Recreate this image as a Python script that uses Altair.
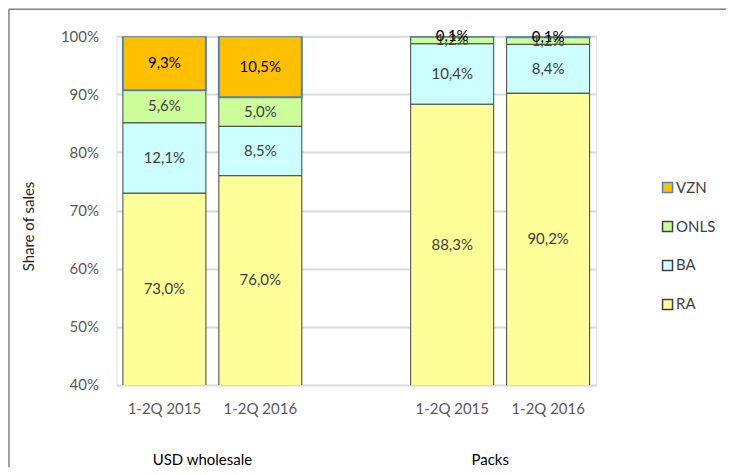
import altair as alt
import pandas as pd

series = ["RA", "BA", "ONLS", "VZN"]
groups = ["USD wholesale", "USD wholesale", "Packs", "Packs"]
periods = ["1-2Q 2015", "1-2Q 2016", "1-2Q 2015", "1-2Q 2016"]
usd_2015 = [73.0, 12.1, 5.6, 9.3]
usd_2016 = [76.0, 8.5, 5.0, 10.5]
packs_2015 = [88.3, 10.4, 1.2, 0.1]
packs_2016 = [90.2, 8.4, 1.2, 0.1]
values = [usd_2015, usd_2016, packs_2015, packs_2016]

legend_order = ["VZN", "ONLS", "BA", "RA"]
fills = ["#FFC000", "#CCFF99", "#CCFFFF", "#FFFF99"]
strokes = ["#4F81BD", "#404040", "#404040", "#404040"]

rows = []
for g, p, vals in zip(groups, periods, values):
    for rank, (s, v) in enumerate(zip(series, vals)):
        rows.append({"cat": g + "|" + p, "series": s, "share": v, "rank": rank})
df = pd.DataFrame(rows)

cat_domain = ["USD wholesale|1-2Q 2015", "USD wholesale|1-2Q 2016", "gap",
              "Packs|1-2Q 2015", "Packs|1-2Q 2016"]

grp_df = pd.DataFrame({"cat": ["USD wholesale|1-2Q 2015", "Packs|1-2Q 2015"],
                       "label": ["USD wholesale", "Packs"]})

FONT = "Lato"
W, H = 480, 349
YMIN = 40

xscale = alt.Scale(domain=cat_domain, paddingInner=0.135, paddingOuter=0.0675)

x_enc = alt.X("cat:N", scale=xscale, sort=cat_domain,
              axis=alt.Axis(title=None, domain=False, ticks=False, labelPadding=17,
                            labelFontSize=15, labelColor="#595959", labelFont=FONT,
                            labelAngle=0,
                            labelExpr="datum.value == 'gap' ? '' : split(datum.value, '|')[1]"))

legend_cfg = dict(title=None, orient="none", legendX=544, legendY=144,
                  symbolType="square", symbolSize=100, symbolStrokeWidth=1.5,
                  labelFontSize=15, labelFont=FONT, labelColor="#404040",
                  rowPadding=22, labelOffset=1, padding=0)

bars = alt.Chart(df).mark_bar(clip=True, strokeWidth=1).encode(
    x=x_enc,
    y=alt.Y("share:Q", stack="zero",
            scale=alt.Scale(domain=[YMIN, 100], zero=False, nice=False),
            axis=alt.Axis(values=[40, 50, 60, 70, 80, 90, 100], labelExpr="datum.value + '%'",
                          domain=False, ticks=False, grid=True, gridColor="#d9d9d9",
                          gridWidth=2, labelPadding=18, labelFontSize=15,
                          labelColor="#595959", labelFont=FONT,
                          title="Share of sales", titleFontSize=15, titleFont=FONT,
                          titleFontWeight="normal", titleColor="#262626",
                          titleX=-88, titleY=190, titleAngle=-90, titleAlign="center",
                          titleBaseline="middle")),
    color=alt.Color("series:N", scale=alt.Scale(domain=legend_order, range=fills),
                    legend=alt.Legend(**legend_cfg)),
    stroke=alt.Stroke("series:N", scale=alt.Scale(domain=legend_order, range=strokes),
                      legend=alt.Legend(**legend_cfg)),
    strokeWidth=alt.condition(alt.datum.series == "VZN", alt.value(2), alt.value(1)),
    order=alt.Order("rank:Q"),
)

labels = alt.Chart(df).transform_stack(
    stack="share", groupby=["cat"], as_=["y0", "y1"], sort=[alt.SortField("rank")]
).transform_calculate(
    mid=f"(max(datum.y0, {YMIN}) + datum.y1) / 2",
    txt="replace(format(datum.share, '.1f'), '.', ',') + '%'"
).mark_text(fontSize=15, font=FONT, baseline="middle").encode(
    x=alt.X("cat:N", scale=xscale, sort=cat_domain),
    y=alt.Y("mid:Q"),
    text="txt:N",
    color=alt.condition(alt.datum.series == "VZN", alt.value("#000000"), alt.value("#404040")),
    order=alt.Order("rank:Q"),
)

group_labels = alt.Chart(grp_df).mark_text(fontSize=15, font=FONT, color="#000000",
                                           dx=38, baseline="middle").encode(
    x=alt.X("cat:N", scale=xscale, sort=cat_domain),
    y=alt.value(424),
    text="label:N",
)

frame = alt.Chart(grp_df.head(1)).mark_rect(fill=None, stroke="#404040", strokeWidth=1).encode(
    x=alt.value(-107.5), x2=alt.value(800), y=alt.value(-27), y2=alt.value(600))

chart = alt.layer(bars, labels, group_labels, frame).properties(
    width=W, height=H,
    autosize=alt.AutoSizeParams(type="none"),
    padding={"left": 108.5, "top": 28, "right": 130, "bottom": 82},
).configure_view(stroke=None).configure(background="white")

chart.save("out.html", embed_options={"renderer": "svg", "actions": False})
